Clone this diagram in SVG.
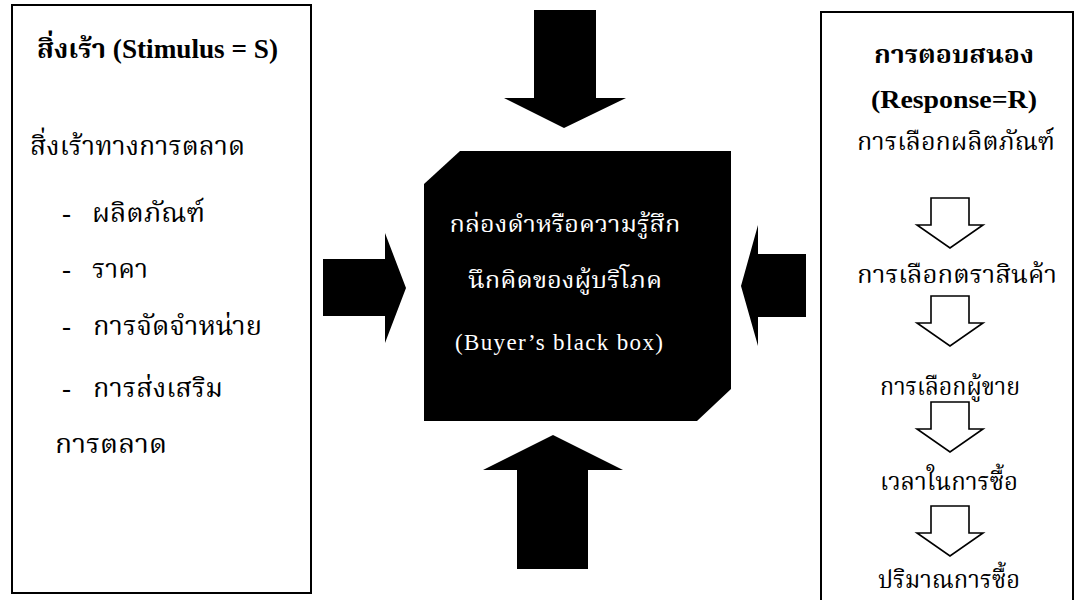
<svg xmlns="http://www.w3.org/2000/svg" width="1078" height="600" viewBox="0 0 1078 600">
<style>
.box{fill:#fff;stroke:#000;stroke-width:2}
.t{font-family:"Liberation Serif","Noto Serif Thai","Noto Sans Thai","Norasi","Garuda","Loma",serif;font-size:25px;fill:#000}
.l{font-size:27px}
.b{font-weight:bold}
.c{text-anchor:middle}
.w{fill:#fff;font-size:23px}
.big{fill:#000}
.small{fill:#fff;stroke:#000;stroke-width:1.6}
</style>
<defs>
<path id="dn" d="M-19,0 H19 V27 H33 L0,50 L-33,27 H-19 Z"/>
</defs>
<rect width="1078" height="600" fill="#fff"/>
<g id="stimulus">
<rect class="box" x="12" y="5" width="299" height="588"/>
<text class="t l b" x="37" y="58" textLength="241" lengthAdjust="spacingAndGlyphs">สิ่งเร้า (Stimulus = S)</text>
<text class="t l" x="30" y="155" textLength="215" lengthAdjust="spacingAndGlyphs">สิ่งเร้าทางการตลาด</text>
<text class="t l" x="62" y="222">-</text><text class="t l" x="92" y="222" textLength="113" lengthAdjust="spacingAndGlyphs">ผลิตภัณฑ์</text>
<text class="t l" x="62" y="278">-</text><text class="t l" x="92" y="278" textLength="56" lengthAdjust="spacingAndGlyphs">ราคา</text>
<text class="t l" x="62" y="335">-</text><text class="t l" x="93" y="335" textLength="169" lengthAdjust="spacingAndGlyphs">การจัดจำหน่าย</text>
<text class="t l" x="62" y="397">-</text><text class="t l" x="93" y="397" textLength="130" lengthAdjust="spacingAndGlyphs">การส่งเสริม</text>
<text class="t l" x="55" y="453" textLength="112" lengthAdjust="spacingAndGlyphs">การตลาด</text>
</g>
<g id="blackbox">
<polygon fill="#000" points="460,151 731,151 731,389 697,421 424,421 424,184"/>
<text class="t w c" x="565" y="232" textLength="231" lengthAdjust="spacingAndGlyphs">กล่องดำหรือความรู้สึก</text>
<text class="t w c" x="565" y="288" textLength="194" lengthAdjust="spacingAndGlyphs">นึกคิดของผู้บริโภค</text>
<text class="t w c" x="559" y="350" textLength="208">(Buyer’s black box)</text>
</g>
<g id="response">
<rect class="box" x="821" y="12" width="252" height="600"/>
<text class="t b c" x="954" y="63" font-size="26" textLength="160" lengthAdjust="spacingAndGlyphs">การตอบสนอง</text>
<text class="t b c" x="954" y="108" font-size="27" textLength="166" lengthAdjust="spacingAndGlyphs">(Response=R)</text>
<text class="t c" x="956" y="150" textLength="198" lengthAdjust="spacingAndGlyphs">การเลือกผลิตภัณฑ์</text>
<use href="#dn" class="small" x="950" y="198"/>
<text class="t c" x="957" y="283" textLength="200" lengthAdjust="spacingAndGlyphs">การเลือกตราสินค้า</text>
<use href="#dn" class="small" x="950" y="296"/>
<text class="t c" x="950" y="395" textLength="140" lengthAdjust="spacingAndGlyphs">การเลือกผู้ขาย</text>
<use href="#dn" class="small" x="950" y="402"/>
<text class="t c" x="949" y="490" textLength="138" lengthAdjust="spacingAndGlyphs">เวลาในการซื้อ</text>
<use href="#dn" class="small" x="950" y="506"/>
<text class="t c" x="949" y="588" textLength="142" lengthAdjust="spacingAndGlyphs">ปริมาณการซื้อ</text>
</g>
<g id="connectors">
<path class="big" d="M534,10 H596 V98 H626 L564,128 L504,98 H534 Z"/>
<path class="big" d="M323,259 H385 V233 L406,288 L385,343 V316 H323 Z"/>
<path class="big" d="M806,254 V317 H758 V346 L741,286 L758,225 V254 Z"/>
<path class="big" d="M517,569 V470 H483 L553,435 L623,470 H588 V569 Z"/>
</g>
</svg>
